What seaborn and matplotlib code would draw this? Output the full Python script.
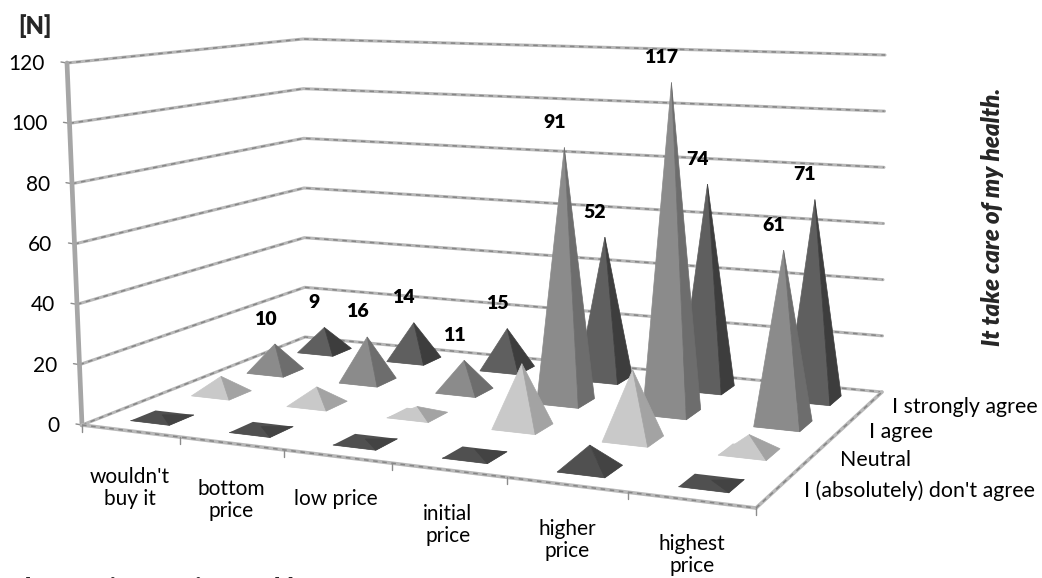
import numpy as np
import matplotlib
matplotlib.use("Agg")
import matplotlib.pyplot as plt
import seaborn as sns

# Data, rows go front to back
price_labels = ["wouldn't\nbuy it", "bottom\nprice", "low price", "initial\nprice", "higher\nprice", "highest\nprice"]
agree_labels = ["I (absolutely) don't agree", "Neutral", "I agree", "I strongly agree"]
dont_agree = [1, 1, 1, 2, 8, 1]
neutral = [6, 6, 3, 22, 24, 6]
agree = [10, 16, 11, 91, 117, 61]
strongly_agree = [9, 14, 15, 52, 74, 71]
value_ticks = [0, 20, 40, 60, 80, 100, 120]
labelled_rows = [2, 3]

rows = [dont_agree, neutral, agree, strongly_agree]

# Box corners in pixels: floor front-left, front-right, back-right, back-left
FLOOR = np.array([[82, 425], [756, 508], [882, 392], [305, 337]], float)
# how far a value of VMAX moves a point at each of those corners
RISE = np.array([[-15, -362], [0, -355], [3, -337], [-2, -298]], float)
VMAX = 120
HALF = 0.2


def square_to_quad(q):
    # homography of the unit square onto a quad
    (x0, y0), (x1, y1), (x2, y2), (x3, y3) = q
    dx1, dx2, dx3 = x1 - x2, x3 - x2, x0 - x1 + x2 - x3
    dy1, dy2, dy3 = y1 - y2, y3 - y2, y0 - y1 + y2 - y3
    den = dx1 * dy2 - dx2 * dy1
    g = (dx3 * dy2 - dx2 * dy3) / den
    h = (dx1 * dy3 - dx3 * dy1) / den
    return np.array([[x1 - x0 + g * x1, x3 - x0 + h * x3, x0],
                     [y1 - y0 + g * y1, y3 - y0 + h * y3, y0],
                     [g, h, 1.0]])


H_FLOOR = square_to_quad(FLOOR)


def project(cat, row, value=0.0):
    # cat and row in category units, value in N -> pixel position
    u, v = cat / len(price_labels), row / len(rows)
    a = H_FLOOR @ np.array([u, v, 1.0])
    a = a[:2] / a[2]
    rise = (1 - u) * (1 - v) * RISE[0] + u * (1 - v) * RISE[1] + u * v * RISE[2] + (1 - u) * v * RISE[3]
    return a + rise * value / VMAX


sns.set_theme(style="white")
plt.rcParams["font.family"] = ["Lato", "DejaVu Sans"]

fig, ax = plt.subplots(figsize=(10.42, 5.78), dpi=100)
fig.subplots_adjust(0, 0, 1, 1)
ax.set_xlim(0, 1042)
ax.set_ylim(578, 0)
ax.axis("off")

n_cat = len(price_labels)
n_row = len(rows)


def grid_line(points, color="#b8b8b8", lw=2.2, dashed=True):
    xy = np.array(points)
    sns.lineplot(x=xy[:, 0], y=xy[:, 1], sort=False, estimator=None, color=color, lw=lw, ax=ax)
    if dashed:
        sns.lineplot(x=xy[:, 0], y=xy[:, 1], sort=False, estimator=None, color="#868686", lw=1.1,
                     dashes=(3, 3), ax=ax)


# walls
for v in value_ticks:
    grid_line([project(0, 0, v), project(0, n_row, v), project(n_cat, n_row, v)])
    tick = project(0, 0, v)
    ax.plot([tick[0] - 6, tick[0]], [tick[1] - 1, tick[1]], color="#8c8c8c", lw=1)
    ax.text(tick[0] - 22, tick[1] + 1, str(v), ha="right", va="center", fontsize=15, color="black")

grid_line([project(0, 0, 0), project(0, 0, VMAX)], color="#a6a6a6", lw=3.4, dashed=False)

# floor edges
grid_line([project(0, 0), project(n_cat, 0)], lw=2.6)
grid_line([project(n_cat, 0), project(n_cat, n_row)], lw=2.6)

for c in range(n_cat + 1):
    tick = project(c, 0)
    ax.plot([tick[0], tick[0]], [tick[1], tick[1] + 7], color="#8c8c8c", lw=1)

# pyramids, back to front so nearer ones cover the rest
front_colors = ["#505050", "#c9c9c9", "#8b8b8b", "#5f5f5f"]
side_colors = ["#434343", "#a3a3a3", "#6d6d6d", "#3d3d3d"]
for r in reversed(range(n_row)):
    for c in range(n_cat):
        cx, cy = c + 0.5, r + 0.5
        value = rows[r][c]
        fl = project(cx - HALF, cy - HALF)
        fr = project(cx + HALF, cy - HALF)
        br = project(cx + HALF, cy + HALF)
        bl = project(cx - HALF, cy + HALF)
        apex = project(cx, cy, value)
        ax.fill(*zip(fl, bl, br, fr), color=front_colors[r], lw=0, zorder=3)
        ax.fill(*zip(fl, fr, apex), color=front_colors[r], lw=0.5, zorder=3)
        ax.fill(*zip(fr, br, apex), color=side_colors[r], lw=0.5, zorder=3)
        if r in labelled_rows:
            ax.text(apex[0] - 10, apex[1] - 25, str(value), ha="center", va="center",
                    fontsize=14, fontweight="heavy", color="black", zorder=5)

# axis texts
label_x = [130, 231, 336, 448, 567, 692]
label_y = [488, 500, 499, 525, 540, 555]
for name, x, y in zip(price_labels, label_x, label_y):
    ax.text(x, y, name, ha="center", va="center", fontsize=15, color="black", linespacing=1.15)

row_x = [804, 840, 869, 892]
row_y = [491, 460, 432, 407]
for name, x, y in zip(agree_labels, row_x, row_y):
    ax.text(x, y, name, ha="left", va="center", fontsize=15.4, color="black")

ax.text(35, 26, "[N]", ha="center", va="center", fontsize=17, fontweight="heavy")
ax.text(992, 217, "It take care of my health.", rotation=90, ha="center", va="center",
        fontsize=17.5, fontweight="heavy", fontstyle="italic")
ax.text(0, 588, "What maximum price would you pay for", ha="left", va="center",
        fontsize=17.5, fontweight="heavy", fontstyle="italic")

sns.despine(ax=ax, left=True, bottom=True)
fig.savefig("out.png", dpi=100)
